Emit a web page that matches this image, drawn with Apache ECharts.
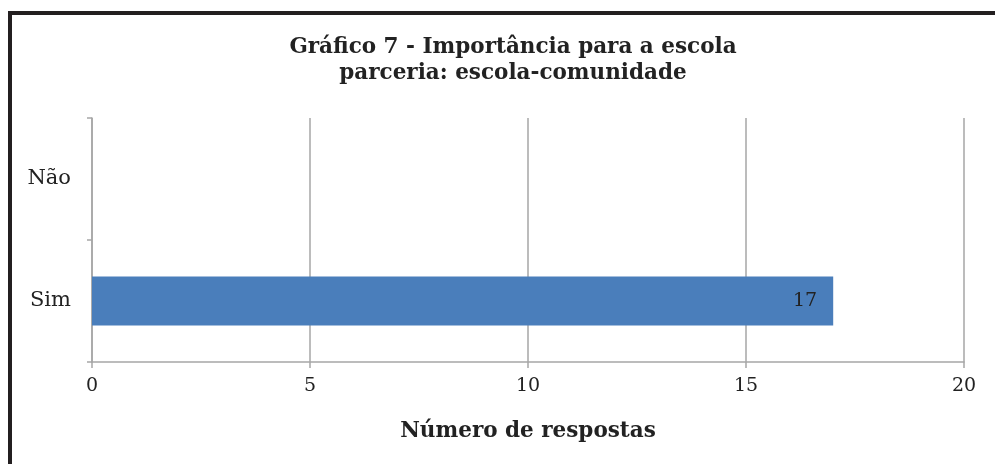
<!DOCTYPE html>
<html>
<head>
<meta charset="utf-8">
<script src="https://cdn.jsdelivr.net/npm/echarts@6/dist/echarts.min.js"></script>
<style>
  html, body { margin: 0; padding: 0; background: #fff; }
  #chart { width: 995px; height: 464px; }
</style>
</head>
<body>
<div id="chart"></div>
<script>
// dados do gráfico
const categories = ['Sim', 'Não']
const respostas = [17, null]
const xTicks = [0, 5, 10, 15, 20]

const serif = '"DejaVu Serif", "Liberation Serif", serif'
const chart = echarts.init(document.getElementById('chart'), null, {renderer: 'canvas'})

const option = {
  animation: false,
  title: {
    text: 'Gráfico 7 - Importância para a escola\nparceria: escola-comunidade',
    left: 508,
    top: 29,
    textAlign: 'center',
    textStyle: {
      fontFamily: serif,
      fontSize: 21.5,
      fontWeight: 'bold',
      color: '#222',
      lineHeight: 26
    }
  },
  graphic: [
    {type: 'rect', left: 8, top: 11, shape: {width: 4, height: 460}, style: {fill: '#231f20'}},
    {type: 'rect', left: 8, top: 11, shape: {width: 990, height: 4}, style: {fill: '#231f20'}}
  ],
  grid: {
    left: 92,
    right: 31,
    top: 118,
    bottom: 102,
    containLabel: false
  },
  xAxis: {
    type: 'value',
    min: xTicks[0],
    max: xTicks[xTicks.length - 1],
    interval: 5,
    name: 'Número de respostas',
    nameLocation: 'middle',
    nameGap: 58,
    nameTextStyle: {
      fontFamily: serif,
      fontSize: 21.5,
      fontWeight: 'bold',
      color: '#222'
    },
    axisLine: {show: true, lineStyle: {color: '#a6a6a6', width: 1.5}},
    axisTick: {show: true, length: 6, lineStyle: {color: '#a6a6a6', width: 1.5}},
    axisLabel: {
      margin: 15,
      fontFamily: serif,
      fontSize: 19,
      color: '#222'
    },
    splitLine: {show: true, lineStyle: {color: '#a6a6a6', width: 1.5}}
  },
  yAxis: {
    type: 'category',
    data: categories,
    axisLine: {show: true, lineStyle: {color: '#a6a6a6', width: 1.5}},
    axisTick: {show: true, length: 5, lineStyle: {color: '#a6a6a6', width: 1.5}},
    axisLabel: {
      margin: 21,
      fontFamily: serif,
      fontSize: 21,
      color: '#222'
    },
    splitLine: {show: false}
  },
  series: [{
    type: 'bar',
    data: respostas,
    barWidth: '40%',
    itemStyle: {color: '#4a7ebb'},
    label: {
      show: true,
      position: 'insideRight',
      distance: 16,
      fontFamily: serif,
      fontSize: 19,
      color: '#222'
    }
  }]
}
chart.setOption(option)
</script>
</body>
</html>
